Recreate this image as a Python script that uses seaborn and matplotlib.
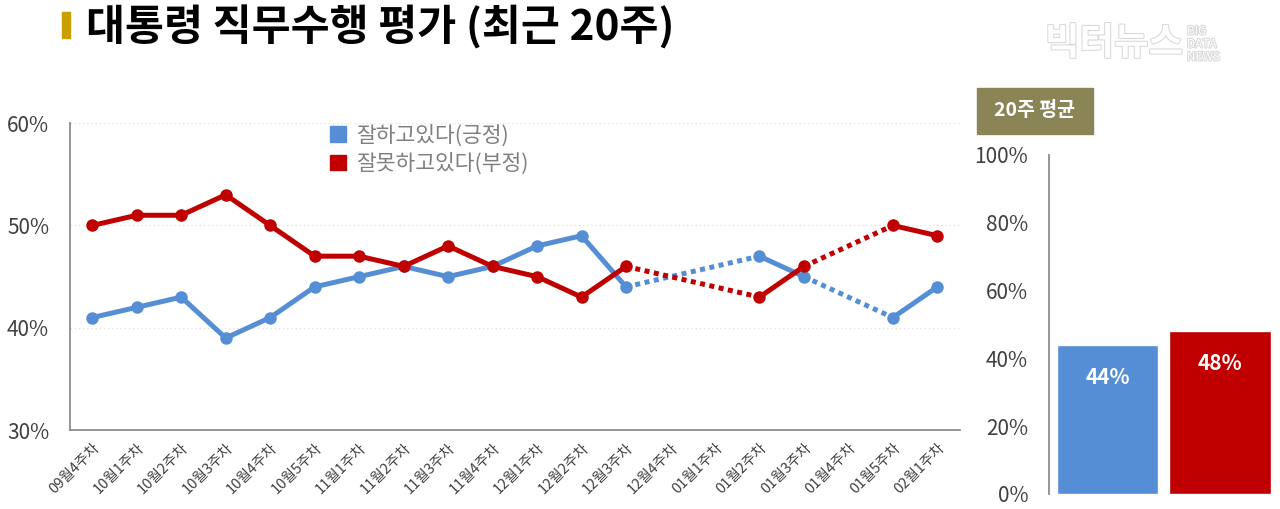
"""Presidential approval, last 20 weeks: line chart plus 20-week average bars."""

import numpy as np
import pandas as pd
import seaborn as sns
import matplotlib.pyplot as plt
import matplotlib.patheffects as pe
from matplotlib.patches import Rectangle, Patch

# -----------------------------------------------------------------------------

weeks = ['09월4주차', '10월1주차', '10월2주차', '10월3주차', '10월4주차', '10월5주차',
         '11월1주차', '11월2주차', '11월3주차', '11월4주차', '12월1주차', '12월2주차',
         '12월3주차', '12월4주차', '01월1주차', '01월2주차', '01월3주차', '01월4주차',
         '01월5주차', '02월1주차']
positive = [41, 42, 43, 39, 41, 44, 45, 46, 45, 46, 48, 49, 44, None, None, 47, 45, None, 41, 44]
negative = [50, 51, 51, 53, 50, 47, 47, 46, 48, 46, 45, 43, 46, None, None, 43, 46, None, 50, 49]
series_names = ['잘하고있다(긍정)', '잘못하고있다(부정)']
avg_labels = ['긍정', '부정']
avg_values = [44, 48]

BLUE = '#558ED5'
RED = '#C00000'
GRAY = '#8C8C8C'
TEXT = '#404040'

# -----------------------------------------------------------------------------

def split_runs(vals):
    '''Return solid runs (grouped by seg) and bridging pairs across missing weeks.'''
    s = pd.Series(vals, dtype=float)
    present = s.notna()
    run_id = (present != present.shift()).cumsum()
    solid = pd.DataFrame({'x': s.index, 'y': s.values, 'seg': run_id.values})[present.values]
    idx = list(s.index[present])
    rows = []
    for k, (a, b) in enumerate(zip(idx[:-1], idx[1:])):
        if b - a > 1:
            rows += [(a, s[a], k), (b, s[b], k)]
    bridge = pd.DataFrame(rows, columns=['x', 'y', 'seg'])
    return solid, bridge


sns.set_style('white')
plt.rcParams['font.family'] = ['Noto Sans CJK KR', 'DejaVu Sans']

fig = plt.figure(figsize=(12.8, 5.09), dpi=100)
ax = fig.add_axes([0.0547, 0.155, 0.695, 0.603])
ax2 = fig.add_axes([0.8195, 0.0295, 0.176, 0.666])

# Main line chart.
for vals, color in [(positive, BLUE), (negative, RED)]:
    solid, bridge = split_runs(vals)
    sns.lineplot(data=bridge, x='x', y='y', units='seg', estimator=None, sort=False,
                 color=color, lw=3.6, linestyle=(0, (1, 0.9)), dash_capstyle='butt',
                 ax=ax, legend=False)
    sns.lineplot(data=solid, x='x', y='y', units='seg', estimator=None, sort=False,
                 color=color, lw=3.6, marker='o', ms=9, mec=color, mew=0,
                 ax=ax, legend=False)

ax.set_xlim(-0.5, 19.5)
ax.set_ylim(30, 60)
ax.set_yticks([30, 40, 50, 60])
ax.set_yticklabels([f'{v}%' for v in [30, 40, 50, 60]], fontsize=15, color=TEXT)
ax.set_xticks(range(len(weeks)))
ax.set_xticklabels(weeks, rotation=45, ha='right', rotation_mode='anchor',
                   fontsize=10.5, color=TEXT)
ax.set_xticks(np.arange(-0.5, len(weeks), 1), minor=True)
ax.tick_params(axis='x', which='major', length=0, pad=8)
ax.tick_params(axis='x', which='minor', length=5, color=GRAY, width=1.2, direction='out')
ax.tick_params(axis='y', length=7, color=GRAY, width=1.2, direction='out', pad=8)
ax.set_xlabel('')
ax.set_ylabel('')
for v in [40, 50, 60]:
    ax.axhline(v, color='#E3E3E3', lw=1, ls=(0, (1, 2)), zorder=0)
sns.despine(ax=ax, top=True, right=True)
for sp in ['left', 'bottom']:
    ax.spines[sp].set_color(GRAY)
    ax.spines[sp].set_linewidth(1.3)

handles = [Patch(facecolor=BLUE, edgecolor=BLUE), Patch(facecolor=RED, edgecolor=RED)]
ax.legend(handles, series_names, loc='upper left', bbox_to_anchor=(0.27, 1.06),
          frameon=False, fontsize=15.5, labelcolor='#7F7F7F', handlelength=0.75,
          handleheight=0.75, handletextpad=0.5, labelspacing=0.3)

# 20-week average bars.
sns.barplot(x=avg_labels, y=avg_values, hue=avg_labels, palette=[BLUE, RED],
            saturation=1, width=0.9, legend=False, ax=ax2)
ax2.set_xlim(-0.52, 1.48)
ax2.set_ylim(0, 100)
ax2.set_yticks(range(0, 101, 20))
ax2.set_yticklabels([f'{v}%' for v in range(0, 101, 20)], fontsize=15, color=TEXT)
ax2.set_xticks([])
ax2.set_xlabel('')
ax2.set_ylabel('')
ax2.tick_params(axis='y', length=7, color=GRAY, width=1.2, direction='out', pad=8)
sns.despine(ax=ax2, top=True, right=True, bottom=True)
ax2.spines['left'].set_color(GRAY)
ax2.spines['left'].set_linewidth(1.3)
for i, v in enumerate(avg_values):
    ax2.text(i, v - 6.5, f'{v}%', ha='center', va='top', color='white',
             fontsize=15, fontweight='bold')

# Title and decorations.
fig.patches.append(Rectangle((62 / 1280, 1 - 38 / 509), 8 / 1280, 26 / 509,
                             transform=fig.transFigure, color='#C9A000'))
fig.text(86 / 1280, 1 - 27 / 509, '대통령 직무수행 평가 (최근 20주)', fontsize=30.5,
         fontweight='bold', va='center', ha='left', color='black')
fig.patches.append(Rectangle((977 / 1280, 1 - 134 / 509), 116 / 1280, 46 / 509,
                             transform=fig.transFigure, color='#8B8456'))
fig.text(1035 / 1280, 1 - 111 / 509, '20주 평균', fontsize=14, fontweight='bold',
         color='white', ha='center', va='center')

stroke = [pe.withStroke(linewidth=1.5, foreground='#D8D8D8')]
fig.text(1045 / 1280, 1 - 43 / 509, '빅터뉴스', fontsize=27, fontweight='bold',
         color='white', ha='left', va='center', path_effects=stroke)
fig.text(1187 / 1280, 1 - 44 / 509, 'BIG\nDATA\nNEWS', fontsize=8.5, color='white',
         ha='left', va='center', linespacing=1.0, path_effects=stroke)

fig.savefig('out.png', dpi=100)
